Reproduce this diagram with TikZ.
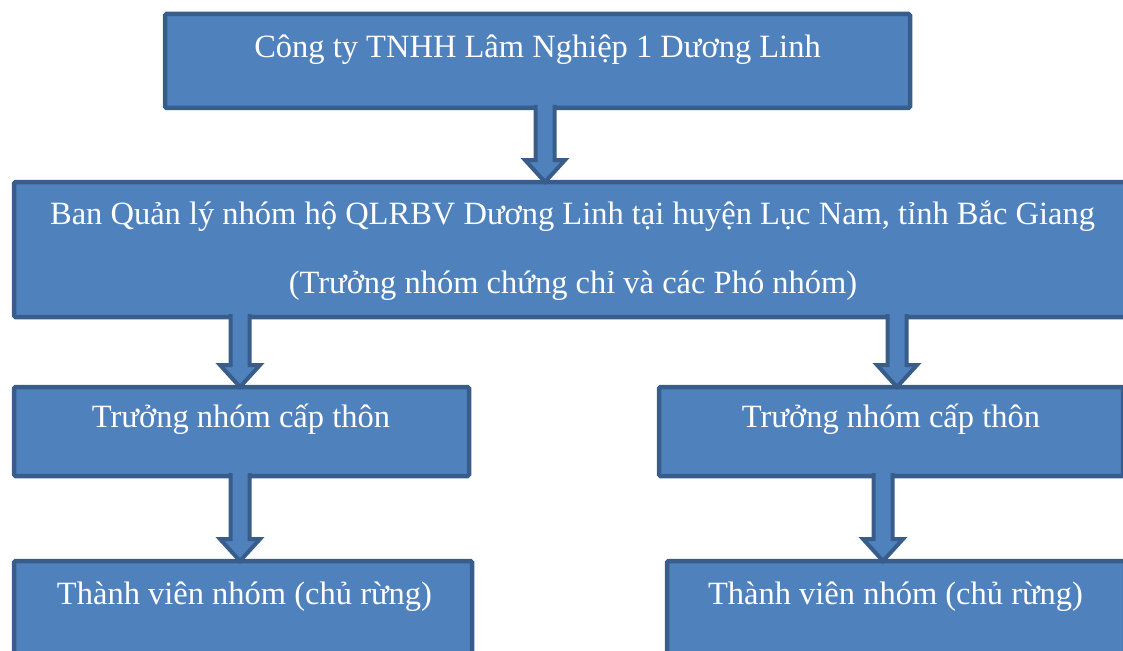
\documentclass[tikz,border=0pt]{standalone}
\usepackage{fontspec}
\setmainfont{Liberation Serif}
\usetikzlibrary{calc}

\definecolor{boxfill}{HTML}{4F81BD}
\definecolor{boxline}{HTML}{385D8A}

\tikzset{
	box/.style={draw=boxline, fill=boxfill, line width=4.5pt, rounded corners=1.5pt,
		anchor=north west, inner sep=0pt, outer sep=0pt},
	txt/.style={text=white, anchor=base, inner sep=0pt,
		font=\fontsize{32.5}{40}\selectfont},
	arrowline/.style={draw=boxline, fill=boxfill, line width=4pt}
}

% fat arrow pointing down: #1 x-coordinate, #2 from node, #3 to node
\newcommand{\blockarrow}[3]{%
	\filldraw[arrowline]
		($(#1 |- #2.south)+(-9.5,-3)$) -- ($(#1 |- #3.north)+(-9.5,-22)$)
		-- ($(#1 |- #3.north)+(-20,-22)$) -- (#1 |- #3.north)
		-- ($(#1 |- #3.north)+(20,-22)$) -- ($(#1 |- #3.north)+(9.5,-22)$)
		-- ($(#1 |- #2.south)+(9.5,-3)$);}

\begin{document}
\begin{tikzpicture}[x=1pt, y=-1pt]
	\useasboundingbox (0,0) rectangle (1123,650);
	\clip (0,0) rectangle (1123,650);
	% kasten
	\node[box, minimum width=745, minimum height=94] (cty) at (165,14) {};
	\node[box, minimum width=1117, minimum height=135] (ban) at (14,182) {};
	\node[box, minimum width=455, minimum height=89] (tnl) at (14,387) {};
	\node[box, minimum width=464, minimum height=89] (tnr) at (659,387) {};
	\node[box, minimum width=458, minimum height=100] (tvl) at (14,561) {};
	\node[box, minimum width=458, minimum height=100] (tvr) at (667,561) {};
	% texte
	\node[txt] (tcty) at (537.5,58) {Công ty TNHH Lâm Nghiệp 1 Dương Linh};
	\node[txt] (tban1) at (572.5,224) {Ban Quản lý nhóm hộ QLRBV Dương Linh tại huyện Lục Nam, tỉnh Bắc Giang};
	\node[txt] (tban2) at (573,293) {(Trưởng nhóm chứng chỉ và các Phó nhóm)};
	\node[txt] (ttnl) at (241,427) {Trưởng nhóm cấp thôn};
	\node[txt] (ttnr) at (891,427) {Trưởng nhóm cấp thôn};
	\node[txt] (ttvl) at (244.5,604) {Thành viên nhóm (chủ rừng)};
	\node[txt] (ttvr) at (895.5,604) {Thành viên nhóm (chủ rừng)};
	% pfeile
	\coordinate (p1) at (545,0);
	\coordinate (p2) at (240,0);
	\coordinate (p3) at (897,0);
	\coordinate (p4) at (883,0);
	\blockarrow{p1}{cty}{ban}
	\blockarrow{p2}{ban}{tnl}
	\blockarrow{p3}{ban}{tnr}
	\blockarrow{p2}{tnl}{tvl}
	\blockarrow{p4}{tnr}{tvr}
\end{tikzpicture}
\end{document}
